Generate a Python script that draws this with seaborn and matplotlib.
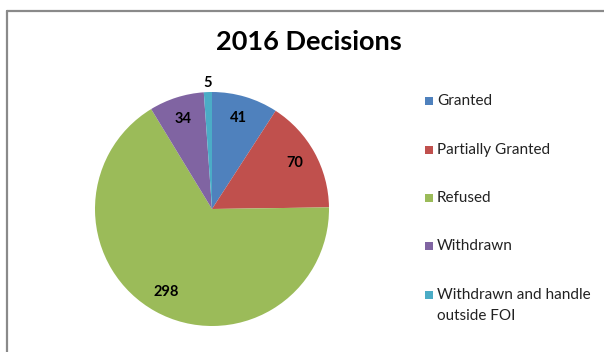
import matplotlib
matplotlib.use("Agg")
import matplotlib.pyplot as plt
from matplotlib.patches import Rectangle
from matplotlib.lines import Line2D
import numpy as np
import seaborn as sns

sns.set_theme(style="white")
plt.rcParams["font.family"] = ["Lato", "DejaVu Sans"]

categories = ["Granted", "Partially Granted", "Refused", "Withdrawn",
              "Withdrawn and handle\noutside FOI"]
decisions = [41, 70, 298, 34, 5]
colors = ["#4F81BD", "#C0504D", "#9BBB59", "#8064A2", "#4BACC6"]

W, H = 604, 352
fig = plt.figure(figsize=(W / 100, H / 100), dpi=100)
fig.patch.set_facecolor("white")

# chart-area border (open to the right and bottom edges)
fig.add_artist(Line2D([7 / W, 7 / W], [0, 1 - 10.5 / H], color="#8a8a8a", lw=1.6,
                      transform=fig.transFigure))
fig.add_artist(Line2D([7 / W, 1], [1 - 10.5 / H, 1 - 10.5 / H], color="#8a8a8a", lw=1.6,
                      transform=fig.transFigure))

# pie axes: centre (212, 209) px, radius 117 px
cx, cy, r = 212, 209, 117
ax = fig.add_axes([(cx - r) / W, (H - cy - r) / H, 2 * r / W, 2 * r / H])
wedges, _ = ax.pie(decisions, colors=colors, startangle=90, counterclock=False,
                   radius=1.0, wedgeprops=dict(linewidth=0))
ax.set_xlim(-1, 1)
ax.set_ylim(-1, 1)
ax.set_aspect("equal")
ax.axis("off")

total = sum(decisions)
for w, v in zip(wedges, decisions):
    mid = np.deg2rad((w.theta1 + w.theta2) / 2)
    dist = 1.08 if v / total < 0.02 else 0.81
    ax.text(dist * np.cos(mid), dist * np.sin(mid), str(v), ha="center", va="center",
            fontsize=10.5, fontweight="bold", color="black", clip_on=False)

fig.text(309 / W, 1 - 42 / H, "2016 Decisions", ha="center", va="center",
         fontsize=19.5, fontweight="bold", color="black")

# legend
ys = [101, 150, 198, 246, 295]
for y, lab, c in zip(ys, categories, colors):
    fig.add_artist(Rectangle(((425) / W, 1 - (y + 4) / H), 8 / W, 8 / H,
                             facecolor=c, edgecolor="none", transform=fig.transFigure))
    fig.text(437 / W, 1 - (y - 7) / H, lab, ha="left", va="top", fontsize=11,
             color="#222222", linespacing=1.6)

fig.savefig("out.png", dpi=100, facecolor="white")
